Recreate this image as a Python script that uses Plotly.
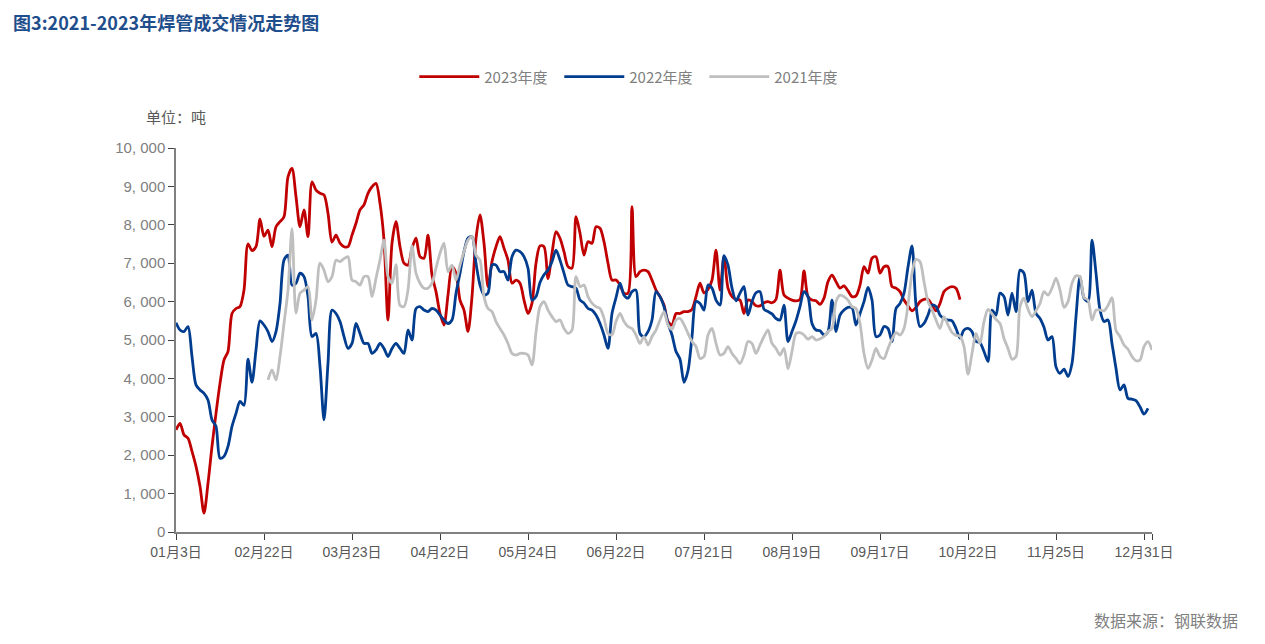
import plotly.graph_objects as go

# x categories are trading-day indices; only every 22nd one is labelled
N_DAYS = 245
TICK_IDX = [0, 22, 44, 66, 88, 110, 132, 154, 176, 198, 220, 242]
TICK_TEXT = ["01月3日", "02月22日", "03月23日", "04月22日", "05月24日", "06月22日",
             "07月21日", "08月19日", "09月17日", "10月22日", "11月25日", "12月31日"]
Y_TICKS = [0, 1000, 2000, 3000, 4000, 5000, 6000, 7000, 8000, 9000, 10000]
Y_TICK_TEXT = ["0", "1, 000", "2, 000", "3, 000", "4, 000", "5, 000",
               "6, 000", "7, 000", "8, 000", "9, 000", "10, 000"]

# 2023 (index 0..196)
Y2023 = [
    2660, 2830, 2530, 2440, 2100, 1710, 1190, 490, 1270, 2230,
    3090, 3870, 4480, 4700, 5690, 5820, 5870, 6300, 7500, 7330,
    7430, 8150, 7700, 7860, 7430, 7950, 8080, 8210, 9250, 9470,
    8730, 7950, 8390, 7690, 9120, 8900, 8820, 8780, 8300, 7550,
    7730, 7520, 7430, 7430, 7730, 8040, 8390, 8520, 8820, 8990,
    9080, 8560, 7600, 5520, 7520, 8080, 7430, 7000, 6950, 7390,
    7650, 7170, 7130, 7730, 6690, 6260, 5690, 5390, 6170, 6910,
    6740, 6040, 5780, 5220, 6130, 7650, 8260, 7520, 6390, 7040,
    7430, 7690, 7390, 7080, 6480, 6560, 6480, 6040, 5690, 5960,
    7000, 7450, 7430, 6600, 7260, 7820, 7650, 7300, 6910, 6870,
    8210, 7780, 7210, 7560, 7520, 7950, 7910, 7560, 7000, 6560,
    6560, 6430, 6220, 6220, 8470, 6650, 6780, 6820, 6780, 6560,
    6300, 6130, 5910, 5480, 5390, 5690, 5690, 5740, 5740, 5800,
    6130, 6480, 6230, 6320, 6560, 7340, 6300, 7170, 6350, 6130,
    6060, 6040, 5690, 6040, 6000, 5890, 5890, 5970, 6000, 5970,
    6060, 6820, 6170, 6090, 6040, 6020, 6060, 6800, 6130, 6040,
    6020, 5930, 6090, 6520, 6690, 6520, 6350, 6410, 6280, 6130,
    6150, 6430, 6910, 6740, 7130, 7170, 6740, 6910, 6910, 6390,
    6350, 6260, 6040, 5890, 5760, 5850, 6000, 6060, 6060, 5910,
    5760, 5950, 6260, 6350, 6390, 6350, 6050,
]

# 2022 (index 0..243)
Y2022 = [
    5450, 5260, 5220, 5350, 4570, 3830, 3700, 3610, 3440, 2920,
    2750, 1920, 1970, 2230, 2750, 3090, 3400, 3300, 4500, 3900,
    4740, 5500, 5390, 5220, 4960, 5220, 5950, 7080, 7210, 6430,
    6480, 6740, 6650, 6130, 5090, 5170, 4310, 2920, 4390, 5780,
    5690, 5480, 5090, 4780, 4910, 5430, 5170, 4910, 4910, 4650,
    4740, 4910, 4780, 4570, 4780, 4910, 4780, 4650, 5260, 5000,
    5820, 5870, 5780, 5740, 5820, 5780, 5650, 5520, 5430, 5520,
    6220, 6740, 7300, 7650, 7690, 7000, 6430, 6170, 6220, 6950,
    6950, 6780, 6780, 6560, 7170, 7340, 7300, 7170, 6870, 6040,
    6130, 6500, 6700, 6820, 7040, 7340, 7080, 6740, 6430, 6390,
    6350, 6040, 5960, 5820, 5780, 5650, 5430, 5130, 4780, 5690,
    6100, 6480, 6170, 6090, 6260, 6300, 5170, 5090, 5220, 5520,
    6260, 6130, 5870, 5430, 5130, 4700, 4500, 3900, 4200, 5090,
    6000, 5950, 5780, 6430, 6350, 6040, 5910, 7200, 6950, 6350,
    6020, 6220, 6390, 5650, 6000, 6230, 6260, 5800, 5740, 5680,
    5560, 5520, 5910, 4960, 5220, 5500, 5870, 6260, 6130, 5430,
    5260, 5240, 5130, 5220, 6040, 5220, 5650, 5780, 5850, 5840,
    5390, 5690, 6000, 6370, 6040, 5090, 5130, 5350, 5300, 4960,
    5820, 5950, 6220, 6900, 7450, 5910, 5350, 5430, 5650, 5910,
    5870, 5650, 5560, 5520, 5500, 5300, 5050, 5260, 5300, 5220,
    4960, 4930, 4700, 4440, 5780, 5650, 6220, 6130, 5650, 6220,
    5740, 6820, 6740, 6000, 6300, 5690, 5560, 5330, 5000, 5090,
    4300, 4130, 4240, 4050, 4390, 5610, 6650, 6090, 6000, 7600,
    6740, 5780, 5480, 5520, 4910, 4260, 3700, 3830, 3480, 3460,
    3420, 3260, 3070, 3220,
]

# 2021 (index 23..244)
Y2021_START = 23
Y2021 = [
    3960, 4220, 3960, 4570, 5430, 6300, 7900,
    5700, 6220, 6300, 6390, 5520, 6040, 7000, 6820, 6520, 6650,
    7080, 7040, 7120, 7170, 6560, 6520, 6430, 6650, 6650, 6130,
    6610, 7080, 7600, 6650, 6480, 6960, 5900, 5870, 6300, 7450,
    6740, 6480, 6350, 6350, 6480, 6870, 7260, 7520, 6780, 6950,
    6560, 6950, 7300, 7600, 7690, 7210, 7080, 6130, 5820, 5740,
    5480, 5300, 5130, 4910, 4650, 4610, 4650, 4650, 4610, 4350,
    5200, 5870, 6000, 5780, 5610, 5480, 5520, 5300, 5170, 5260,
    6650, 6390, 6430, 6130, 5960, 5870, 5820, 5570, 5170, 5130,
    5480, 5690, 5480, 5350, 5300, 5130, 4910, 5090, 4870, 5090,
    5260, 5520, 5740, 5390, 5280, 5520, 5560, 5400, 5170, 4960,
    4830, 4520, 4570, 5130, 5300, 4910, 4610, 4650, 4830, 4650,
    4520, 4390, 4610, 4960, 4910, 4650, 4870, 5090, 5260, 4910,
    4780, 4610, 4780, 4250, 4700, 5170, 5190, 5130, 5020, 5090,
    5000, 5030, 5090, 5220, 5300, 6000, 6170, 6130, 6040, 5870,
    5820, 5430, 4650, 4260, 4480, 4780, 4570, 4520, 4780, 5020,
    5190, 5130, 5300, 5910, 6740, 7100, 7040, 6520, 6000, 5780,
    5520, 5300, 5610, 5390, 5200, 5120, 5100, 4830, 4110, 4650,
    5170, 4910, 5480, 5800, 5680, 5540, 5430, 5040, 4780, 4500,
    4570, 5870, 6090, 5800, 5610, 5760, 5950, 6260, 6170, 6350,
    6610, 6300, 5850, 6000, 6480, 6670, 6650, 6110, 6040, 5520,
    5780, 5780, 5760, 5900, 6100, 5250, 5090, 4870, 4760, 4570,
    4460, 4480, 4830, 4960, 4740,
]

SERIES = [
    ("2023年度", list(range(len(Y2023))), Y2023, "#C00000"),
    ("2022年度", list(range(len(Y2022))), Y2022, "#003D8F"),
    ("2021年度", list(range(Y2021_START, Y2021_START + len(Y2021))), Y2021, "#BFBFBF"),
]

FONT = "Liberation Sans, Noto Sans CJK SC, sans-serif"
CJK = "Noto Sans CJK SC"
GREY = "#595959"
LIGHT = "#808080"

fig = go.Figure()
for name, xs, ys, color in SERIES:
    fig.add_trace(go.Scatter(
        x=xs, y=ys, name=name, mode="lines",
        line=dict(color=color, width=2.8, shape="spline", smoothing=0.8),
    ))

# page body adds 8px, so the plot box is shifted back by that much
fig.update_layout(
    width=1265, height=644,
    margin=dict(l=168, r=121, t=140, b=120),
    plot_bgcolor="white", paper_bgcolor="white",
    font=dict(family=FONT, color=GREY, size=13),
    title=dict(
        text="<b>图3:2021-2023年焊管成交情况走势图</b>",
        x=0.004, xanchor="left", y=0.986, yanchor="top",
        font=dict(family=CJK, size=18, color="#1F4E8C"),
    ),
    legend=dict(
        orientation="h", x=0.467, xanchor="center", y=1.185, yanchor="middle",
        font=dict(family=CJK, size=15, color=LIGHT),
        itemwidth=60, entrywidth=70, entrywidthmode="pixels",
        traceorder="normal",
    ),
    annotations=[
        dict(text="单位：吨", xref="paper", yref="paper", x=0.0, y=1.083,
             xanchor="center", yanchor="middle", showarrow=False,
             font=dict(family=CJK, size=15, color=GREY)),
        dict(text="数据来源：钢联数据", xref="paper", yref="paper", x=1.09, y=-0.229,
             xanchor="right", yanchor="middle", showarrow=False,
             font=dict(family=CJK, size=16, color=LIGHT)),
    ],
)

fig.update_xaxes(
    range=[0, N_DAYS - 1],
    tickmode="array",
    tickvals=TICK_IDX + [N_DAYS - 1],
    ticktext=TICK_TEXT + [""],
    ticks="outside", ticklen=6, tickcolor="#404040",
    showline=True, linecolor=LIGHT, linewidth=1.5,
    showgrid=False, zeroline=False,
    tickfont=dict(size=14, color=GREY),
)
fig.update_yaxes(
    range=[0, 10000],
    tickmode="array", tickvals=Y_TICKS, ticktext=Y_TICK_TEXT,
    ticks="outside", ticklen=6, tickcolor="#404040",
    showline=True, linecolor=LIGHT, linewidth=1.5,
    showgrid=False, zeroline=False,
    tickfont=dict(size=15, color=LIGHT),
)

fig.write_html("out.html")
